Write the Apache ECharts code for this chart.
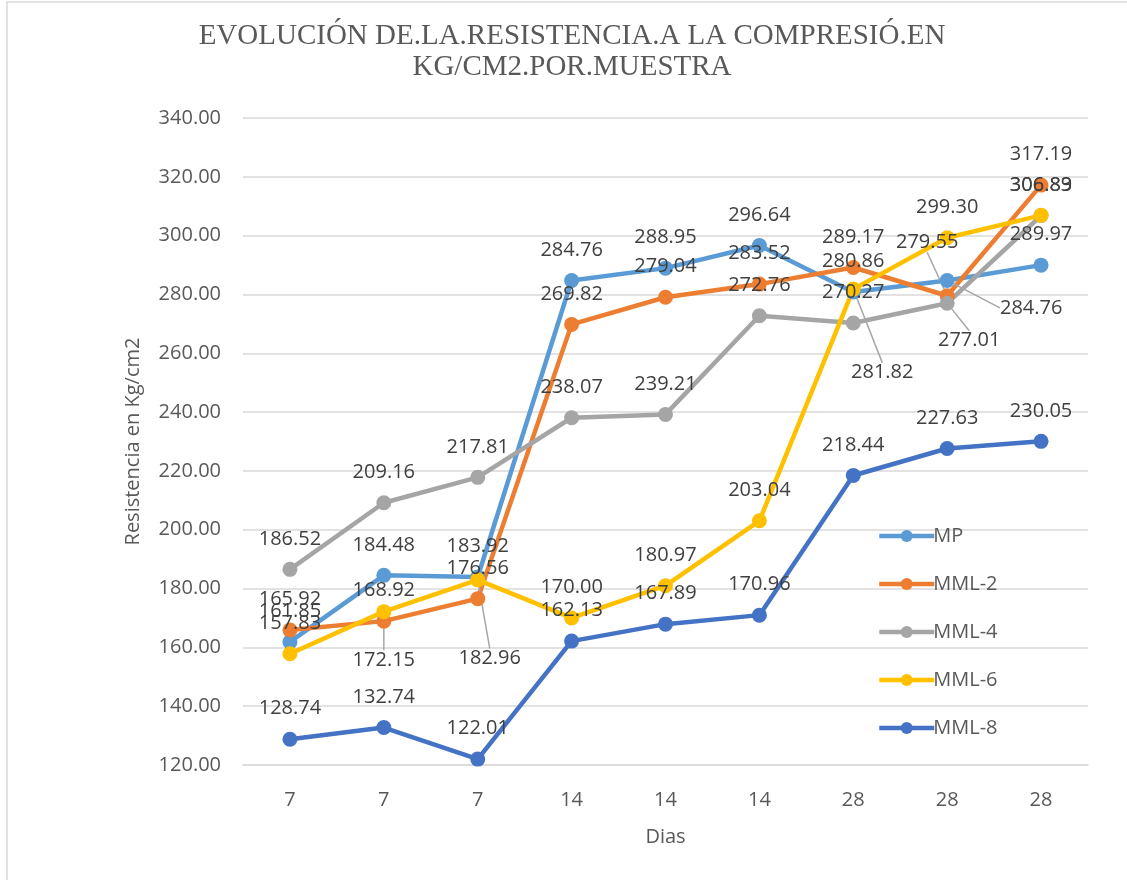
<!DOCTYPE html>
<html>
<head>
<meta charset="utf-8">
<title>Resistencia a la compresión</title>
<script src="https://cdn.jsdelivr.net/npm/echarts@6/dist/echarts.min.js"></script>
<style>
    html, body { margin: 0; padding: 0; background: #ffffff; }
    #chart { width: 1127px; height: 880px; }
</style>
</head>
<body>
<div id="chart"></div>
<script>
    // datos
    var dias = ['7', '7', '7', '14', '14', '14', '28', '28', '28'];
    var yTicks = { min: 120, max: 340, step: 20 };
    var mp   = [161.85, 184.48, 183.92, 284.76, 288.95, 296.64, 280.86, 284.76, 289.97];
    var mml2 = [165.92, 168.92, 176.56, 269.82, 279.04, 283.52, 289.17, 279.55, 317.19];
    var mml4 = [186.52, 209.16, 217.81, 238.07, 239.21, 272.76, 270.27, 277.01, 306.83];
    var mml6 = [157.83, 172.15, 182.96, 170.00, 180.97, 203.04, 281.82, 299.30, 306.89];
    var mml8 = [128.74, 132.74, 122.01, 162.13, 167.89, 170.96, 218.44, 227.63, 230.05];

    var nombres = ['MP', 'MML-2', 'MML-4', 'MML-6', 'MML-8'];
    var valores = [mp, mml2, mml4, mml6, mml8];
    var colores = ['#5B9BD5', '#ED7D31', '#A5A5A5', '#FFC000', '#4472C4'];

    // etiquetas movidas a mano en el original (serie-indice: [dx, dy])
    var movidas = {
        '0-7': [84, 58],
        '1-7': [-20, -23],
        '2-7': [22, 68],
        '3-1': [0, 79],
        '3-2': [12, 109],
        '3-6': [29, 114]
    };

    var fuente = '"Open Sans", "Liberation Sans", sans-serif';

    var series = nombres.map(function (nombre, s) {
        return {
            name: nombre,
            type: 'line',
            data: valores[s].map(function (v, i) {
                if (movidas[s + '-' + i]) {
                    return { value: v, labelLine: { show: true } };
                }
                return v;
            }),
            symbol: 'circle',
            symbolSize: 15,
            showAllSymbol: true,
            color: colores[s],
            lineStyle: { width: 4.5, color: colores[s] },
            itemStyle: { color: colores[s] },
            label: {
                show: true,
                position: 'top',
                distance: 13,
                fontFamily: fuente,
                fontSize: 20,
                color: '#404040',
                formatter: function (p) { return p.value.toFixed(2); }
            },
            labelLine: {
                show: false,
                lineStyle: { color: '#a6a6a6', width: 1.5 }
            },
            labelLayout: function (params) {
                var m = movidas[params.seriesIndex + '-' + params.dataIndex];
                if (m) return { dx: m[0], dy: m[1] };
                return {};
            },
            animation: false
        };
    });

    var chart = echarts.init(document.getElementById('chart'));
    chart.setOption({
        backgroundColor: '#ffffff',
        animation: false,
        graphic: [{
            type: 'rect',
            shape: { x: 7, y: 2, width: 1140, height: 900 },
            style: { fill: 'none', stroke: '#d9d9d9', lineWidth: 1.5 },
            silent: true
        }],
        title: {
            text: 'EVOLUCIÓN DE.LA.RESISTENCIA.A LA COMPRESIÓ.EN\nKG/CM2.POR.MUESTRA',
            left: 567,
            top: 16,
            textAlign: 'center',
            textStyle: {
                fontFamily: '"Liberation Serif", "DejaVu Serif", serif',
                fontWeight: 'normal',
                fontSize: 29,
                lineHeight: 31,
                color: '#595959'
            }
        },
        legend: {
            orient: 'vertical',
            left: 872,
            top: 521,
            itemWidth: 55,
            itemHeight: 15,
            itemGap: 28,
            data: nombres,
            lineStyle: { width: 4.5 },
            textStyle: {
                fontFamily: fuente,
                fontSize: 20,
                lineHeight: 20,
                color: '#595959',
                padding: [0, 0, 0, -6]
            }
        },
        grid: {
            left: 243,
            right: 39,
            top: 118,
            bottom: 115
        },
        xAxis: {
            type: 'category',
            data: dias,
            boundaryGap: true,
            name: 'Dias',
            nameLocation: 'middle',
            nameGap: 62,
            nameTextStyle: { fontFamily: fuente, fontSize: 20, color: '#595959' },
            axisLine: { lineStyle: { color: '#d9d9d9', width: 1.5 } },
            axisTick: { show: false },
            axisLabel: { fontFamily: fuente, fontSize: 20, color: '#595959', margin: 25 }
        },
        yAxis: {
            type: 'value',
            min: yTicks.min,
            max: yTicks.max,
            interval: yTicks.step,
            name: 'Resistencia en Kg/cm2',
            nameLocation: 'middle',
            nameRotate: 90,
            nameGap: 100,
            nameTextStyle: { fontFamily: fuente, fontSize: 20, color: '#595959' },
            axisLine: { show: false },
            axisTick: { show: false },
            splitLine: { lineStyle: { color: '#d9d9d9', width: 1.5 } },
            axisLabel: {
                fontFamily: fuente,
                fontSize: 20,
                color: '#595959',
                margin: 22,
                formatter: function (v) { return v.toFixed(2); }
            }
        },
        series: series
    });
</script>
</body>
</html>
